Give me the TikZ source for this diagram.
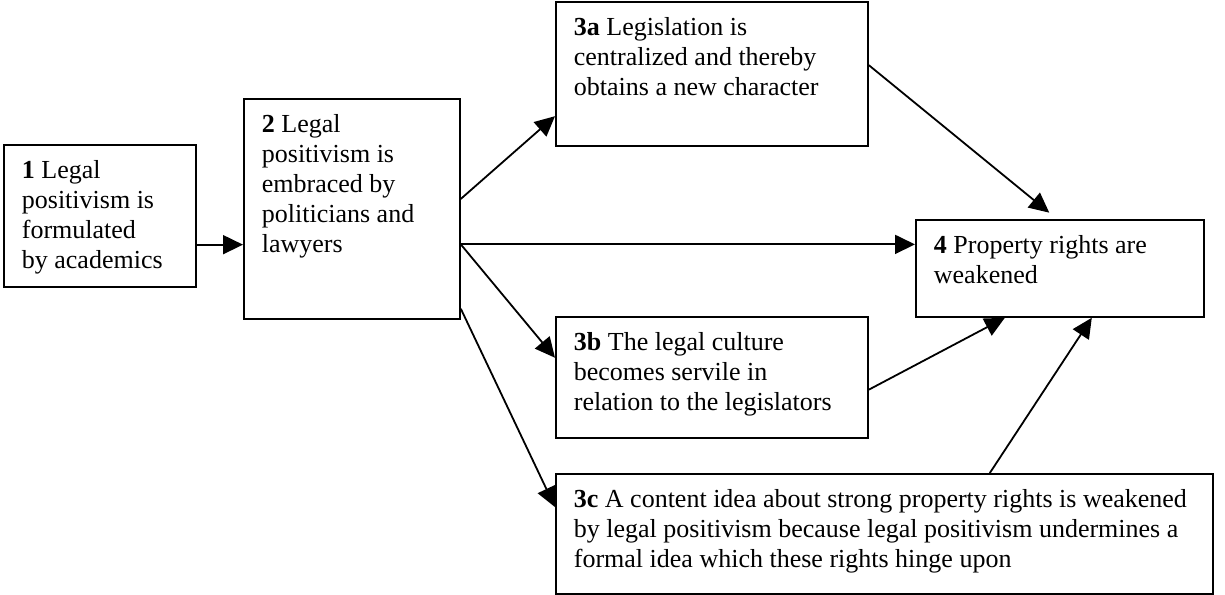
\documentclass[tikz,border=0pt]{standalone}
\usepackage{fontspec}
\setmainfont{Liberation Serif}
\usetikzlibrary{arrows.meta,calc}
\newcommand{\boxtxt}[3]{\parbox[t][#2][t]{#1}{\raggedright #3}}

\begin{document}
\begin{tikzpicture}[x=0.5pt,y=-0.5pt]
        \tikzstyle{every node}+=[inner xsep=9pt, inner ysep=8pt, font=\fontsize{13}{15}\selectfont]
        \tikzstyle{box}=[draw, line width=0.9pt, anchor=north west]
        \tikzstyle{arr}=[line width=0.9pt, -{Triangle[length=10pt,width=9.5pt]}]
        \useasboundingbox (0,0) rectangle (1225,594);
        % boxes
        \node[box] (n1) at (3,144) {\boxtxt{78pt}{55pt}{\textbf{1} Legal\\ positivism is\\ formulated\\ by academics}};
        \node[box] (n2) at (243,98) {\boxtxt{90pt}{94pt}{\textbf{2} Legal\\ positivism is\\ embraced by\\ politicians and\\ lawyers}};
        \node[box] (n3a) at (555,1) {\boxtxt{138pt}{56pt}{\textbf{3a} Legislation is\\ centralized and thereby\\ obtains a new character}};
        \node[box] (n4) at (915,219) {\boxtxt{126pt}{32.5pt}{\textbf{4} Property rights are\\ weakened}};
        \node[box] (n3b) at (555,316) {\boxtxt{138pt}{44.5pt}{\textbf{3b} The legal culture\\ becomes servile in\\ relation to the legislators}};
        \node[box] (n3c) at (555,473) {\boxtxt{310.5pt}{44pt}{\textbf{3c} A content idea about strong property rights is weakened\\ by legal positivism because legal positivism undermines a\\ formal idea which these rights hinge upon}};
        % arrows
        \draw[arr] ($(n1.north east)!.70!(n1.south east)$) coordinate (a1) -- (a1 -| n2.west);
        \draw[arr] ($(n2.north east)!.455!(n2.south east)$) -- ($(n3a.north west)!.79!(n3a.south west)$);
        \draw[arr] ($(n2.north east)!.66!(n2.south east)$) coordinate (a2) -- (a2 -| n4.west);
        \draw[arr] (a2) -- ($(n3b.north west)!.34!(n3b.south west)$);
        \draw[arr] ($(n2.north east)!.95!(n2.south east)$) -- ($(n3c.north west)!.28!(n3c.south west)$);
        \draw[arr, shorten >=5pt] ($(n3a.north east)!.44!(n3a.south east)$) -- ($(n4.north west)!.49!(n4.north east)$);
        \draw[arr] ($(n3b.north east)!.6!(n3b.south east)$) -- ($(n4.south west)!.31!(n4.south east)$);
        \draw[arr] ($(n3c.north west)!.66!(n3c.north east)$) -- ($(n4.south west)!.61!(n4.south east)$);
\end{tikzpicture}
\end{document}
